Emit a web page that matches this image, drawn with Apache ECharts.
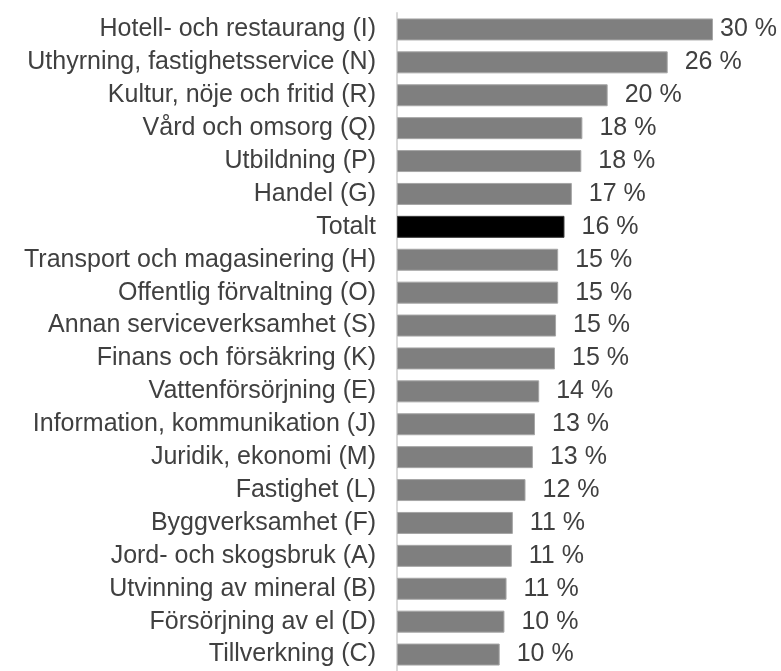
<!DOCTYPE html>
<html>
<head>
<meta charset="utf-8">
<script src="https://cdn.jsdelivr.net/npm/echarts@6/dist/echarts.min.js"></script>
<style>
  html, body { margin: 0; padding: 0; background: #fff; }
  #chart { width: 781px; height: 671px; }
</style>
</head>
<body>
<div id="chart"></div>
<script>
var categories = [
  "Hotell- och restaurang (I)",
  "Uthyrning, fastighetsservice (N)",
  "Kultur, nöje och fritid (R)",
  "Vård och omsorg (Q)",
  "Utbildning (P)",
  "Handel (G)",
  "Totalt",
  "Transport och magasinering (H)",
  "Offentlig förvaltning (O)",
  "Annan serviceverksamhet (S)",
  "Finans och försäkring (K)",
  "Vattenförsörjning (E)",
  "Information, kommunikation (J)",
  "Juridik, ekonomi (M)",
  "Fastighet (L)",
  "Byggverksamhet (F)",
  "Jord- och skogsbruk (A)",
  "Utvinning av mineral (B)",
  "Försörjning av el (D)",
  "Tillverkning (C)"
];
var values = [30.0, 25.7, 20.0, 17.6, 17.5, 16.6, 15.9, 15.3, 15.3, 15.1, 15.0, 13.5, 13.1, 12.9, 12.2, 11.0, 10.9, 10.4, 10.2, 9.75];
var labels = ["30", "26", "20", "18", "18", "17", "16", "15", "15", "15", "15", "14", "13", "13", "12", "11", "11", "11", "10", "10"];
var totalName = "Totalt";

var chart = echarts.init(document.getElementById("chart"));

var seriesData = values.map(function (v, i) {
  var item = { value: v };
  if (categories[i] === totalName) {
    item.itemStyle = { color: "#000000", borderColor: "#3a3a3a" };
  }
  if (i === 0) {
    item.label = { distance: 7 };
  }
  return item;
});

var option = {
  animation: false,
  textStyle: { fontFamily: "Liberation Sans, Arial, sans-serif" },
  grid: {
    left: 397,
    width: 316,
    top: 13,
    bottom: -4,
    containLabel: false
  },
  xAxis: {
    type: "value",
    min: 0,
    max: 30,
    show: false
  },
  yAxis: {
    type: "category",
    inverse: true,
    data: categories,
    axisLine: { show: true, lineStyle: { color: "#d9d9d9", width: 2 } },
    axisTick: { show: false },
    axisLabel: {
      color: "#404040",
      fontSize: 25,
      margin: 21,
      fontFamily: "Liberation Sans, Arial, sans-serif"
    }
  },
  series: [
    {
      type: "bar",
      data: seriesData,
      barWidth: 22,
      itemStyle: {
        color: "#7f7f7f",
        borderColor: "#a6a6a6",
        borderWidth: 1
      },
      label: {
        show: true,
        position: "right",
        distance: 17,
        color: "#404040",
        fontSize: 25,
        fontFamily: "Liberation Sans, Arial, sans-serif",
        formatter: function (p) {
          return labels[p.dataIndex] + " %";
        }
      }
    }
  ]
};
chart.setOption(option);
window.addEventListener("resize", chart.resize);
</script>
</body>
</html>
